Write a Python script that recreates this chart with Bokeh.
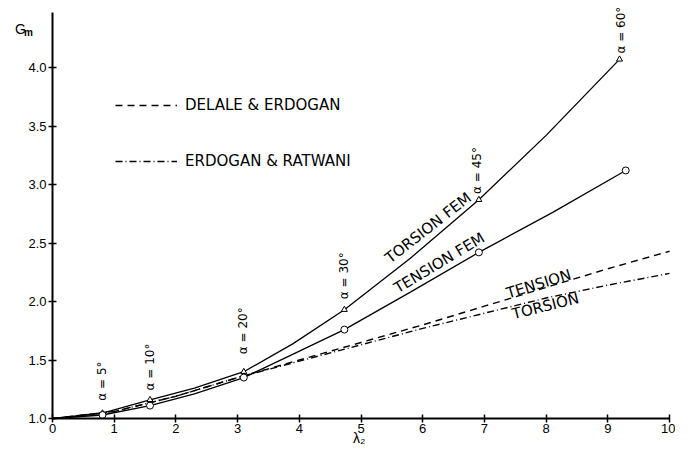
import math
from bokeh.plotting import figure
from bokeh.models import Label, Legend, LegendItem, FixedTicker, Range1d, PrintfTickFormatter
from bokeh.embed import file_html
from bokeh.resources import INLINE

# ---------------- data ----------------
alpha_labels = ["α = 5°", "α = 10°", "α = 20°", "α = 30°", "α = 45°", "α = 60°"]
torsion_fem_x = [0.81, 1.58, 3.10, 4.73, 6.91, 9.19]
torsion_fem_y = [1.045, 1.16, 1.40, 1.93, 2.87, 4.07]
tension_fem_x = [0.81, 1.58, 3.10, 4.73, 6.91, 9.29]
tension_fem_y = [1.03, 1.11, 1.35, 1.76, 2.42, 3.12]

torsion_curve_x = [0, 0.81, 1.58, 2.3, 3.10, 3.9, 4.73, 5.8, 6.91, 8.0, 9.19]
torsion_curve_y = [1.0, 1.045, 1.16, 1.26, 1.40, 1.64, 1.93, 2.37, 2.87, 3.42, 4.07]
tension_curve_x = [0, 0.81, 1.58, 2.3, 3.10, 3.9, 4.73, 5.8, 6.91, 8.1, 9.29]
tension_curve_y = [1.0, 1.03, 1.11, 1.21, 1.35, 1.55, 1.76, 2.08, 2.42, 2.76, 3.12]

lam = [0, 1, 2, 3, 4, 5, 6, 7, 8, 9, 10]
delale_tension = [1.0, 1.06, 1.19, 1.35, 1.50, 1.65, 1.80, 1.96, 2.12, 2.28, 2.43]
ratwani_torsion = [1.0, 1.06, 1.19, 1.35, 1.49, 1.63, 1.77, 1.90, 2.03, 2.14, 2.24]

x_ticks = [0, 1, 2, 3, 4, 5, 6, 7, 8, 9, 10]
y_ticks = [1.0, 1.5, 2.0, 2.5, 3.0, 3.5, 4.0]

# ---------------- figure ----------------
FONT = "DejaVu Sans"
TFONT = "Liberation Sans"

# the frame covers the whole canvas; axes are drawn at fixed locations inside it
p = figure(width=675, height=449, output_backend="svg", toolbar_location=None,
           x_range=Range1d(-0.843, 10.097), y_range=Range1d(0.735, 4.573),
           min_border_left=0, min_border_right=0, min_border_top=0, min_border_bottom=0)
p.outline_line_color = None
p.xgrid.visible = False
p.ygrid.visible = False
p.background_fill_color = "white"
p.border_fill_color = "white"

for ax in (p.xaxis, p.yaxis):
    ax.axis_line_width = 2
    ax.axis_line_color = "black"
    ax.major_tick_in = 4
    ax.major_tick_out = 4
    ax.major_tick_line_width = 1.5
    ax.major_tick_line_color = "black"
    ax.minor_tick_line_color = None
    ax.major_label_text_font = TFONT
    ax.major_label_text_font_size = "13px"
    ax.major_label_text_color = "black"
    ax.major_label_standoff = 2
p.xaxis.ticker = FixedTicker(ticks=x_ticks)
p.yaxis.ticker = FixedTicker(ticks=y_ticks)
p.yaxis.formatter = PrintfTickFormatter(format="%.1f")
p.xaxis.fixed_location = 1.0
p.yaxis.fixed_location = 0.0
p.xaxis.bounds = (0, 10)
p.yaxis.bounds = (1.0, 4.47)

# analytical curves
r_del = p.line(lam, delale_tension, line_color="black", line_width=1.4, line_dash="7 5")
r_rat = p.line(lam, ratwani_torsion, line_color="black", line_width=1.4, line_dash="7 3 1 3")

# FEM curves
p.line(torsion_curve_x, torsion_curve_y, line_color="black", line_width=1.3)
p.line(tension_curve_x, tension_curve_y, line_color="black", line_width=1.3)
p.scatter(torsion_fem_x, torsion_fem_y, marker="triangle", size=6, line_color="black",
          fill_color="white", line_width=1)
p.scatter(tension_fem_x, tension_fem_y, marker="circle", size=7, line_color="black",
          fill_color="white", line_width=1)

# legend
legend = Legend(items=[LegendItem(label="DELALE & ERDOGAN", renderers=[r_del]),
                       LegendItem(label="ERDOGAN & RATWANI", renderers=[r_rat])],
                location=(115, 278), orientation="vertical", spacing=36,
                glyph_width=62, glyph_height=20, label_standoff=8,
                padding=0, margin=0, border_line_color=None, background_fill_alpha=0,
                label_text_font=FONT, label_text_font_size="15px", label_text_color="black")
p.add_layout(legend)

# alpha labels (rotated), positioned above torsion markers
alpha_pos_x = [0.81, 1.58, 3.09, 4.72, 6.88, 9.22]
alpha_pos_y = [1.32, 1.44, 1.75, 2.22, 3.12, 4.32]
for t, xx, yy in zip(alpha_labels, alpha_pos_x, alpha_pos_y):
    p.add_layout(Label(x=xx, y=yy, text=t, angle=math.pi / 2, text_align="center",
                       text_baseline="middle", text_font=FONT, text_font_size="12px",
                       text_color="black"))

# curve labels
curve_labels = [("TORSION FEM", 6.09, 2.63, 38), ("TENSION FEM", 6.27, 2.33, 31),
                ("TENSION", 7.88, 2.15, 17), ("TORSION", 7.99, 1.96, 14)]
for t, xx, yy, ang in curve_labels:
    p.add_layout(Label(x=xx, y=yy, text=t, angle=math.radians(ang), text_align="center",
                       text_baseline="middle", text_font=FONT, text_font_size="15px",
                       text_color="black"))

# axis titles
p.add_layout(Label(x=-0.52, y=4.333, text="G", text_align="center", text_baseline="middle",
                   text_font=TFONT, text_font_size="14px", text_color="black"))
p.add_layout(Label(x=-0.39, y=4.30, text="m", text_align="center", text_baseline="middle",
                   text_font=TFONT, text_font_size="10px", text_color="black",
                   text_font_style="bold"))
p.add_layout(Label(x=4.97, y=0.83, text="λ₂", text_align="center", text_baseline="middle",
                   text_font=TFONT, text_font_size="14px", text_color="black"))

open("out.html", "w").write(file_html(p, INLINE))
